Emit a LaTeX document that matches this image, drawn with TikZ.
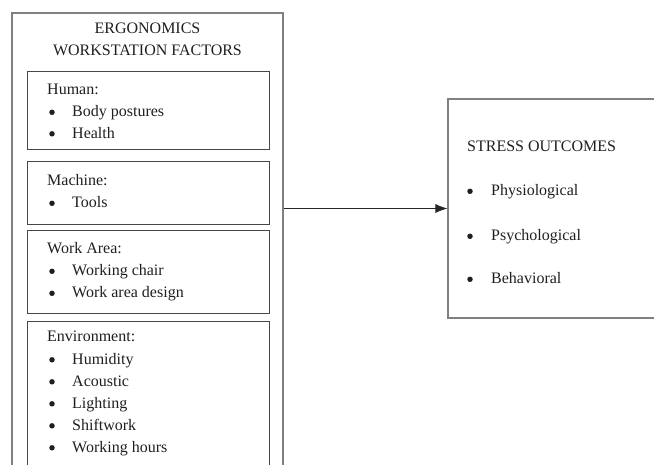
\documentclass[tikz,border=0pt]{standalone}
\usepackage{fontspec}
\setmainfont{Liberation Serif}
\usetikzlibrary{arrows.meta}
\begin{document}
\begin{tikzpicture}[x=1pt,y=-1pt,
  frame/.style={draw=black!50, line width=1.1pt, inner sep=0pt},
  panel/.style={draw=black!72, line width=0.9pt, inner sep=0pt},
  lbl/.style={anchor=base west, inner sep=0pt, font=\fontsize{16}{19}\selectfont, text=black!88},
  ttl/.style={anchor=base, inner sep=0pt, font=\fontsize{16}{19}\selectfont, text=black!88},
  dot/.style={circle, fill=black!88, inner sep=0pt, minimum size=5.5pt, yshift=4.7pt},
  link/.style={draw=black!85, line width=0.8pt, -{Latex[length=12pt,width=9pt]}}]
\useasboundingbox (0,0) rectangle (654,465);
\clip (0,0) rectangle (654,465);

% outer frame with the factor panels
\node[frame, minimum width=271pt, minimum height=467pt] (factors) at (147.5,246.5) {};
\node[ttl] (t1) at (147.5,34) {ERGONOMICS};
\node[ttl] (t2) at (147.5,56) {WORKSTATION FACTORS};

\node[panel, minimum width=242pt, minimum height=78pt] (human) at (148,110) {};
\node[lbl] (h0) at (47,95) {Human:};
\node[dot] (hb1) at (52,117) {};
\node[lbl] (h1) at (72,117) {Body postures};
\node[dot] (hb2) at (52,138.5) {};
\node[lbl] (h2) at (72,138.5) {Health};

\node[panel, minimum width=242pt, minimum height=63pt] (machine) at (148,192.5) {};
\node[lbl] (m0) at (47,186) {Machine:};
\node[dot] (mb1) at (52,208) {};
\node[lbl] (m1) at (72,208) {Tools};

\node[panel, minimum width=242pt, minimum height=83pt] (area) at (148,271.5) {};
\node[lbl] (a0) at (47,254) {Work Area:};
\node[dot] (ab1) at (52,276) {};
\node[lbl] (a1) at (72,276) {Working chair};
\node[dot] (ab2) at (52,298) {};
\node[lbl] (a2) at (72,298) {Work area design};

\node[panel, minimum width=242pt, minimum height=159pt] (env) at (148,400.5) {};
\node[lbl] (e0) at (47,342) {Environment:};
\node[dot] (eb1) at (52,364.5) {};
\node[lbl] (e1) at (72,364.5) {Humidity};
\node[dot] (eb2) at (52,386.5) {};
\node[lbl] (e2) at (72,386.5) {Acoustic};
\node[dot] (eb3) at (52,408.5) {};
\node[lbl] (e3) at (72,408.5) {Lighting};
\node[dot] (eb4) at (52,430.5) {};
\node[lbl] (e4) at (72,430.5) {Shiftwork};
\node[dot] (eb5) at (52,452.5) {};
\node[lbl] (e5) at (72,452.5) {Working hours};

% outcome box
\node[frame, minimum width=222pt, minimum height=219pt] (stress) at (559,208.5) {};
\node[lbl] (s0) at (467,152) {STRESS OUTCOMES};
\node[dot] (sb1) at (470,196) {};
\node[lbl] (s1) at (491,196) {Physiological};
\node[dot] (sb2) at (470,241) {};
\node[lbl] (s2) at (491,241) {Psychological};
\node[dot] (sb3) at (470,284) {};
\node[lbl] (s3) at (491,284) {Behavioral};

\draw[link] (factors.east |- stress.west) -- (stress.west);
\end{tikzpicture}
\end{document}
